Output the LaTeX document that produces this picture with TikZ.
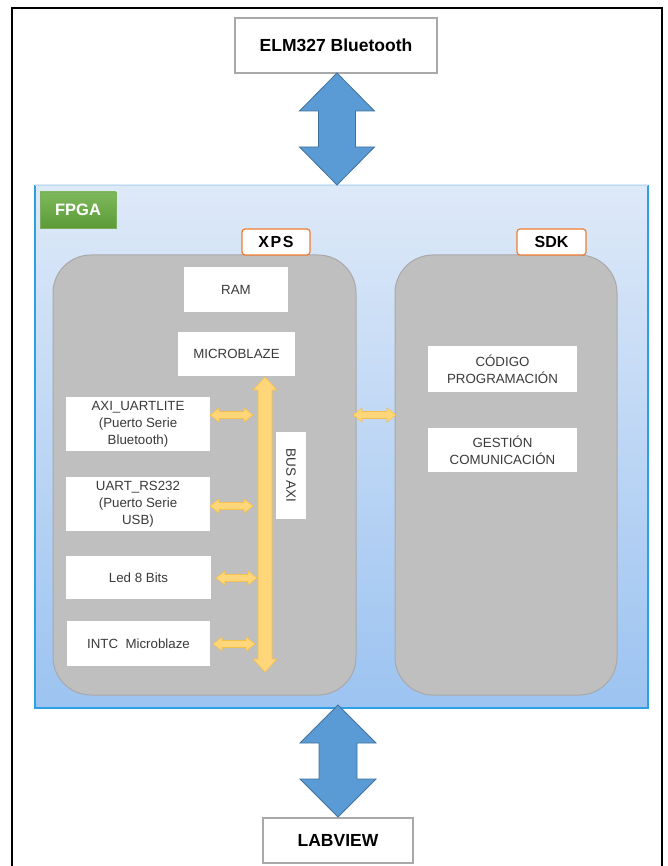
\documentclass[tikz,border=0pt]{standalone}
\usepackage{fontspec}
\setmainfont{Liberation Sans}
\definecolor{grayfill}{HTML}{BFBFBF}
\definecolor{grayline}{HTML}{A9A9A9}
\definecolor{bluefill}{HTML}{5B9BD5}
\definecolor{blueline}{HTML}{41719C}
\definecolor{yelfill}{HTML}{FFD67A}
\definecolor{yelline}{HTML}{F5C04A}
\definecolor{orangeline}{HTML}{ED7D31}
\definecolor{fpgaline}{HTML}{2E9FE0}
\definecolor{fpgatop}{HTML}{DEE9F8}
\definecolor{fpgabot}{HTML}{9CC3F1}
\definecolor{greentop}{HTML}{7DB95B}
\definecolor{greenbot}{HTML}{5C9A38}
\definecolor{txtgray}{HTML}{3A3A3A}
\newcommand\myDblV[7]{% x, ytop, ybot, half head, half shaft, head length, style
  \path[#7] (#1,#2) -- ({#1+#4},{#2+#6}) -- ({#1+#5},{#2+#6}) -- ({#1+#5},{#3-#6})
    -- ({#1+#4},{#3-#6}) -- (#1,#3) -- ({#1-#4},{#3-#6}) -- ({#1-#5},{#3-#6})
    -- ({#1-#5},{#2+#6}) -- ({#1-#4},{#2+#6}) -- cycle;}
\newcommand\myDblH[7]{% xleft, xright, y, half head, half shaft, head length, style
  \path[#7] (#1,#3) -- ({#1+#6},{#3-#4}) -- ({#1+#6},{#3-#5}) -- ({#2-#6},{#3-#5})
    -- ({#2-#6},{#3-#4}) -- (#2,#3) -- ({#2-#6},{#3+#4}) -- ({#2-#6},{#3+#5})
    -- ({#1+#6},{#3+#5}) -- ({#1+#6},{#3+#4}) -- cycle;}
\begin{document}
\begin{tikzpicture}[x=1pt,y=-1pt,
  wbox/.style={draw=none,fill=white,inner sep=0pt,align=center,text=txtgray,
    font=\fontsize{13.3}{17}\selectfont},
  extbox/.style={draw=grayline,line width=1.5pt,fill=white,inner sep=0pt,
    font=\fontsize{17.5}{20}\selectfont\bfseries},
  tabbox/.style={draw=orangeline,line width=1.2pt,fill=white,inner sep=0pt,
    rounded corners=3pt,font=\fontsize{16}{18}\selectfont\bfseries},
  region/.style={draw=grayline,line width=1pt,fill=grayfill,rounded corners=38pt},
  bluearrow/.style={fill=bluefill,draw=blueline,line width=0.8pt},
  yelarrow/.style={fill=yelfill,draw=yelline,line width=0.6pt}]
\useasboundingbox (0,0) rectangle (667,866);
\fill[white] (0,0) rectangle (667,866);
% outer frame
\draw[black,line width=1.5pt] (12,870) -- (12,8) -- (662,8) -- (662,870);
% FPGA area
\shade[top color=fpgatop,bottom color=fpgabot] (35,185) rectangle (648,708);
\draw[fpgaline,line width=1.8pt] (35,185) -- (35,708) -- (648,708) -- (648,185);
\draw[fpgatop!80!fpgaline,line width=0.6pt] (35,185) -- (648,185);
% FPGA label
\shade[top color=greentop,bottom color=greenbot,draw=greenbot!80!white] (40,192) rectangle (116,228);
\node[text=white,font=\fontsize{16.5}{18}\selectfont\bfseries] (fpga) at (78,210) {FPGA};
% regions
\path[region] (53,255) rectangle (356,695);
\path[region] (395,255) rectangle (617,695);
\node[tabbox,minimum width=68pt,minimum height=26pt] (xps) at (276,242) {X\kern1.5pt P\kern1.5pt S};
\node[tabbox,minimum width=69pt,minimum height=26pt] (sdk) at (551.5,242) {SDK};
% external boxes
\node[extbox,minimum width=202pt,minimum height=55pt] (elm) at (336,45.5) {ELM327 Bluetooth};
\node[extbox,minimum width=150pt,minimum height=45pt] (labview) at (338,840.5) {LABVIEW};
% inner boxes
\node[wbox,minimum width=104pt,minimum height=45pt] (ram) at (236,289.5) {RAM};
\node[wbox,minimum width=117pt,minimum height=44pt] (micro) at (236.5,354) {MICROBLAZE};
\node[wbox,minimum width=144pt,minimum height=54pt] (axi) at (138,424) {AXI\_UARTLITE\\(Puerto Serie\\Bluetooth)};
\node[wbox,minimum width=144pt,minimum height=54pt] (uart) at (138,504) {UART\_RS232\\(Puerto Serie\\USB)};
\node[wbox,minimum width=145pt,minimum height=43pt] (led) at (138.5,577.5) {Led 8 Bits};
\node[wbox,minimum width=143pt,minimum height=45pt] (intc) at (138.5,643.5) {INTC\ \ Microblaze};
\node[wbox,minimum width=30pt,minimum height=87pt] (busbox) at (291,475.5) {};
\node[rotate=-90,text=txtgray,font=\fontsize{13.5}{15}\selectfont] (buslbl) at (busbox.center) {BUS AXI};
\node[wbox,minimum width=149pt,minimum height=46pt] (codigo) at (502.5,369) {CÓDIGO\\PROGRAMACIÓN};
\node[wbox,minimum width=149pt,minimum height=44pt] (gestion) at (502.5,450) {GESTIÓN\\COMUNICACIÓN};
% blue block arrows
\myDblV{337}{73}{185}{37.5}{18.5}{38}{bluearrow}
\myDblV{338}{705}{817}{38}{19}{38}{bluearrow}
% bus
\myDblV{265}{377}{672}{12}{7}{13}{yelarrow}
% horizontal yellow arrows
\myDblH{210}{253}{415}{7}{3.5}{9}{yelarrow}
\myDblH{210}{253}{506}{7}{3.5}{9}{yelarrow}
\myDblH{216}{257}{578}{7}{3.5}{9}{yelarrow}
\myDblH{213}{255}{644}{7}{3.5}{9}{yelarrow}
\myDblH{353}{396}{415}{7}{3.5}{9}{yelarrow}
\end{tikzpicture}
\end{document}
